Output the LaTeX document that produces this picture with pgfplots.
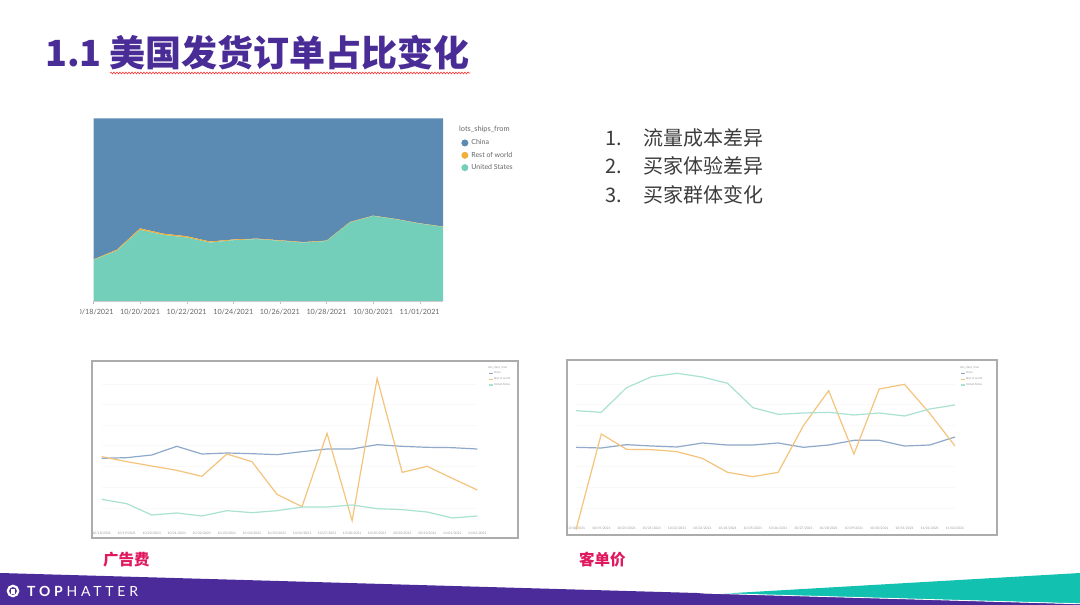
\documentclass[border=0pt]{standalone}
\usepackage{fontspec}
\setmainfont{Lato}
\newfontfamily\cjk{Noto Sans CJK SC}
\usepackage{pgfplots}
\pgfplotsset{compat=1.18}
\usetikzlibrary{decorations.pathmorphing}
\definecolor{titlepurple}{HTML}{4A2C96}
\definecolor{chinaA}{HTML}{5B8BB3}
\definecolor{rowA}{HTML}{F0AE3A}
\definecolor{usA}{HTML}{74CFBA}
\definecolor{chinaL}{HTML}{8EA9C9}
\definecolor{rowL}{HTML}{F4C47C}
\definecolor{usL}{HTML}{A9E2D3}
\definecolor{capred}{HTML}{E0195F}
\definecolor{footpurple}{HTML}{4B2A9A}
\definecolor{footteal}{HTML}{12C1B0}
\definecolor{textgray}{HTML}{3C3C3C}
\definecolor{leggray}{HTML}{666666}
\begin{document}
\begin{tikzpicture}
\fill[white] (0pt,0pt) rectangle (1080pt,605pt);
% title
\node[anchor=base west, inner sep=0, text=titlepurple, font=\cjk\bfseries\fontsize{36}{40}\selectfont] at (45pt,538pt) {1.1};
\node[anchor=base west, inner sep=0, text=titlepurple, font=\cjk\bfseries\fontsize{36}{40}\selectfont] at (109pt,538pt) {美国发货订单占比变化};
\draw[red!80, line width=0.6pt, decorate, decoration={snake, amplitude=0.9pt, segment length=3pt}] (110pt,532pt) -- (470pt,532pt);
% bullet list
\foreach \n/\t/\yy in {1./流量成本差异/459.4, 2./买家体验差异/431.4, 3./买家群体变化/402.4}{
  \node[anchor=base west, inner sep=0, text=textgray, font=\cjk\fontsize{20}{24}\selectfont] at (605pt,\yy pt) {\n};
  \node[anchor=base west, inner sep=0, text=textgray, font=\cjk\fontsize{20}{24}\selectfont] at (643pt,\yy pt) {\t};
}
% top stacked area chart
\begin{scope}
\clip (80pt,0pt) rectangle (1080pt,605pt);
\begin{axis}[at={(93.5pt,304pt)}, anchor=south west, scale only axis,
  width=349.5pt, height=182.5pt, xmin=0, xmax=15, ymin=0, ymax=1,
  stack plots=y, axis x line*=bottom, axis y line=none,
  x axis line style={draw=gray!40, line width=0.4pt},
  xtick={0,2,...,14},
  xticklabels={10/18/2021,10/20/2021,10/22/2021,10/24/2021,10/26/2021,10/28/2021,10/30/2021,11/01/2021},
  xticklabel style={font=\fontsize{7.2}{8}\selectfont, text=leggray, inner sep=0pt, yshift=-5.5pt},
  major tick length=3pt, tick align=outside, tick style={draw=gray!50, line width=0.4pt},
  reverse legend,
  legend image code/.code={\fill[#1] (3.5pt,0pt) circle (3.5pt);},
  legend style={at={(1.052,0.888)}, anchor=north west, draw=none, fill=none,
    font=\fontsize{7}{7.5}\selectfont, text=leggray, row sep=4.7pt, inner sep=0pt,
    nodes={inner sep=0.5pt},
    /tikz/every odd column/.append style={column sep=2.5pt}},
  legend cell align=left]
\addplot[fill=usA, draw=none] coordinates {(0,0.225)(1,0.275)(2,0.390)(3,0.362)(4,0.348)(5,0.320)(6,0.333)(7,0.339)(8,0.330)(9,0.320)(10,0.328)(11,0.430)(12,0.466)(13,0.447)(14,0.424)(15,0.406)} \closedcycle;
\addlegendentry{United States}
\addplot[fill=rowA, draw=none] coordinates {(0,0.003)(1,0.006)(2,0.008)(3,0.007)(4,0.007)(5,0.006)(6,0.004)(7,0.003)(8,0.003)(9,0.003)(10,0.003)(11,0.003)(12,0.002)(13,0.002)(14,0.002)(15,0.002)} \closedcycle;
\addlegendentry{Rest of world}
\addplot[fill=chinaA, draw=none] coordinates {(0,0.772)(1,0.719)(2,0.602)(3,0.631)(4,0.645)(5,0.674)(6,0.663)(7,0.658)(8,0.667)(9,0.677)(10,0.669)(11,0.567)(12,0.532)(13,0.551)(14,0.574)(15,0.592)} \closedcycle;
\addlegendentry{China}
\end{axis}
\end{scope}
\node[anchor=west, inner sep=0, text=leggray, font=\fontsize{7.4}{8}\selectfont] at (459pt,476pt) {lots\_ships\_from};
% bottom-left chart
\draw[gray!65, line width=1.4pt] (92pt,67pt) rectangle (518pt,244pt);
\begin{axis}[at={(101.7pt,75pt)}, anchor=south west, scale only axis,
  width=375.6pt, height=165pt, xmin=0, xmax=15, ymin=25, ymax=520, clip=false,
  axis line style={draw=none}, tick style={draw=none},
  ytick={90,153,215,278,340,402,462}, yticklabels={}, ymajorgrids,
  major grid style={draw=gray!5, line width=0.4pt},
  xtick={0,...,15},
  xticklabels={10/18/2021,10/19/2021,10/20/2021,10/21/2021,10/22/2021,10/23/2021,10/24/2021,10/25/2021,10/26/2021,10/27/2021,10/28/2021,10/29/2021,10/30/2021,10/31/2021,11/01/2021,11/02/2021},
  xticklabel style={font=\fontsize{3.3}{4}\selectfont, text=gray!80, inner sep=0pt, yshift=-1.6pt},
  legend style={at={(1.0285,0.9636)}, anchor=north west, draw=none, fill=none,
    font=\fontsize{2.8}{3.2}\selectfont, text=gray!80, row sep=1.4pt, inner sep=0pt, nodes={inner sep=0.4pt}},
  legend cell align=left,
  legend image code/.code={\draw[#1] (0pt,0pt) -- (4pt,0pt);}]
\addplot[chinaL, line width=1.2pt] coordinates {(0,240)(1,242)(2,250)(3,276)(4,253)(5,256)(6,254)(7,251)(8,260)(9,268)(10,268)(11,281)(12,276)(13,273)(14,272)(15,268)};
\addlegendentry{China}
\addplot[rowL, line width=1.2pt] coordinates {(0,245)(1,230)(2,217)(3,204)(4,186)(5,253)(6,230)(7,132)(8,95)(9,315)(10,53)(11,480)(12,198)(13,216)(14,180)(15,145)};
\addlegendentry{Rest of world}
\addplot[usL, line width=1.2pt] coordinates {(0,117)(1,104)(2,70)(3,76)(4,67)(5,83)(6,77)(7,83)(8,94)(9,94)(10,100)(11,89)(12,86)(13,79)(14,61)(15,67)};
\addlegendentry{United States}
\end{axis}
\node[anchor=west, inner sep=0, text=gray!80, font=\fontsize{2.8}{3.2}\selectfont] at (488pt,237pt) {lots\_ships\_from};
% bottom-right chart
\draw[gray!65, line width=1.4pt] (567pt,70pt) rectangle (997pt,245pt);
\begin{axis}[at={(576pt,79pt)}, anchor=south west, scale only axis,
  width=379pt, height=161pt, xmin=0, xmax=15, ymin=37, ymax=520, clip=false,
  axis line style={draw=none}, tick style={draw=none},
  ytick={90,153,215,278,340,402,462}, yticklabels={}, ymajorgrids,
  major grid style={draw=gray!5, line width=0.4pt},
  xtick={0,...,15},
  xticklabels={10/18/2021,10/19/2021,10/20/2021,10/21/2021,10/22/2021,10/23/2021,10/24/2021,10/25/2021,10/26/2021,10/27/2021,10/28/2021,10/29/2021,10/30/2021,10/31/2021,11/01/2021,11/02/2021},
  xticklabel style={font=\fontsize{3.3}{4}\selectfont, text=gray!80, inner sep=0pt, yshift=-1pt},
  legend style={at={(1.0132,0.9627)}, anchor=north west, draw=none, fill=none,
    font=\fontsize{2.8}{3.2}\selectfont, text=gray!80, row sep=1.4pt, inner sep=0pt, nodes={inner sep=0.4pt}},
  legend cell align=left,
  legend image code/.code={\draw[#1] (0pt,0pt) -- (4pt,0pt);}]
\addplot[chinaL, line width=1.2pt] coordinates {(0,273)(1,271)(2,281)(3,277)(4,274)(5,286)(6,280)(7,280)(8,286)(9,273)(10,280)(11,294)(12,294)(13,277)(14,280)(15,304)};
\addlegendentry{China}
\addplot[rowL, line width=1.2pt] coordinates {(0,26)(1,313)(2,267)(3,266)(4,260)(5,240)(6,198)(7,185)(8,198)(9,338)(10,443)(11,253)(12,448)(13,462)(14,375)(15,277)};
\addlegendentry{Rest of world}
\addplot[usL, line width=1.2pt] coordinates {(0,383)(1,378)(2,452)(3,485)(4,495)(5,484)(6,465)(7,392)(8,372)(9,376)(10,378)(11,370)(12,376)(13,367)(14,388)(15,400)};
\addlegendentry{United States}
\end{axis}
\node[anchor=west, inner sep=0, text=gray!80, font=\fontsize{2.8}{3.2}\selectfont] at (960pt,237pt) {lots\_ships\_from};
% captions
\node[anchor=base west, inner sep=0, text=capred, font=\cjk\bfseries\fontsize{15.5}{18}\selectfont] at (103pt,39.3pt) {广告费};
\node[anchor=base west, inner sep=0, text=capred, font=\cjk\bfseries\fontsize{15.5}{18}\selectfont] at (579pt,39.3pt) {客单价};
% footer
\fill[footpurple] (0pt,32pt) -- (1080pt,1pt) -- (1080pt,0pt) -- (0pt,0pt) -- cycle;
\fill[footteal] (722pt,11.3pt) -- (1080pt,32pt) -- (1080pt,1.5pt) -- cycle;
\draw[white, line width=0.8pt] (700pt,12pt) -- (1080pt,1.2pt);
\draw[white, line width=2.2pt] (13pt,14pt) circle (5.2pt);
\fill[white] (11pt,11pt) rectangle (15pt,16pt);
\node[anchor=west, inner sep=0, text=white, font=\fontsize{14}{16}\selectfont\addfontfeatures{LetterSpace=27}] at (27pt,14pt) {\textbf{TOP}HATTER};
\pgfresetboundingbox
\path[use as bounding box] (0pt,0pt) rectangle (1080pt,605pt);
\end{tikzpicture}
\end{document}
